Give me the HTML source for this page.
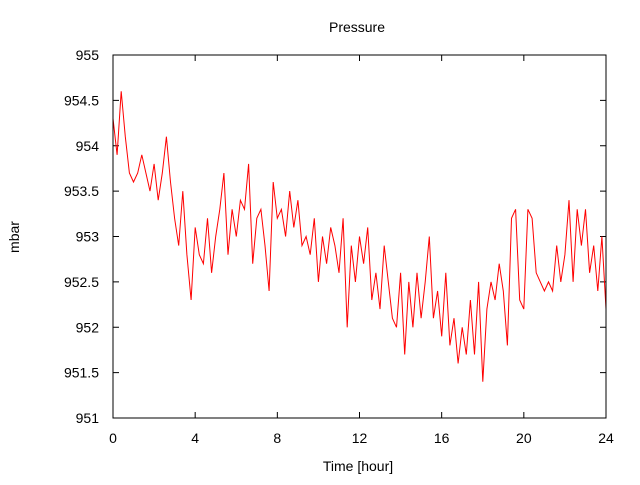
<!DOCTYPE html>
<html><head><meta charset="utf-8"><style>
body{margin:0;background:#fff}
svg text{font-family:"Liberation Sans",sans-serif;font-size:14px;fill:#000}
</style></head><body>
<svg id="chart" width="640" height="480" xmlns="http://www.w3.org/2000/svg">
<text x="357" y="32" text-anchor="middle">Pressure</text>
<text x="358" y="471" text-anchor="middle">Time [hour]</text>
<text transform="translate(19,237) rotate(-90)" text-anchor="middle">mbar</text>
<g id="ticks"></g>
<polyline id="series" fill="none" stroke="#ff0000" stroke-width="1"/>
<rect x="113" y="55" width="493" height="363" fill="none" stroke="#000" stroke-width="1"/>
</svg>
<script>
const xTicks=[0,4,8,12,16,20,24];
const yTicks=[951,951.5,952,952.5,953,953.5,954,954.5,955];
const yTickLabels=["951","951.5","952","952.5","953","953.5","954","954.5","955"];
const stepHours=0.2;
const pressure=[954.3,953.9,954.6,954.1,953.7,953.6,953.7,953.9,953.7,953.5,953.8,953.4,953.7,954.1,953.6,953.2,952.9,953.5,952.8,952.3,953.1,952.8,952.7,953.2,952.6,953.0,953.3,953.7,952.8,953.3,953.0,953.4,953.3,953.8,952.7,953.2,953.3,952.9,952.4,953.6,953.2,953.3,953.0,953.5,953.1,953.4,952.9,953.0,952.8,953.2,952.5,953.0,952.7,953.1,952.9,952.6,953.2,952.0,952.9,952.5,953.0,952.7,953.1,952.3,952.6,952.2,952.9,952.5,952.1,952.0,952.6,951.7,952.5,952.0,952.6,952.1,952.5,953.0,952.1,952.4,951.9,952.6,951.8,952.1,951.6,952.0,951.7,952.3,951.7,952.5,951.4,952.2,952.5,952.3,952.7,952.4,951.8,953.2,953.3,952.3,952.2,953.3,953.2,952.6,952.5,952.4,952.5,952.4,952.9,952.5,952.8,953.4,952.5,953.3,952.9,953.3,952.6,952.9,952.4,953.0,952.2,953.2,952.3];
const L=113,R=606,T=55,B=418;
const xs=v=>L+(v-0)/24*(R-L);
const ys=v=>B-(v-951)/4*(B-T);
const NS="http://www.w3.org/2000/svg";
const g=document.getElementById('ticks');
function mk(tag,attrs){const e=document.createElementNS(NS,tag);for(const k in attrs)e.setAttribute(k,attrs[k]);g.appendChild(e);return e;}
xTicks.forEach(t=>{
  const x=xs(t);
  const a=mk('line',{x1:x,y1:B,x2:x,y2:B-6,stroke:'#000'});
  
  
  const b=mk('line',{x1:x,y1:T,x2:x,y2:T+6,stroke:'#000'});
  
  
  const tx=mk('text',{x:x,y:443,'text-anchor':'middle'});
  tx.textContent=String(t);
  
  
});
yTicks.forEach((t,i)=>{
  const y=ys(t);
  const a=mk('line',{x1:L,y1:y,x2:L+6,y2:y,stroke:'#000'});
  
  
  const b=mk('line',{x1:R,y1:y,x2:R-6,y2:y,stroke:'#000'});
  
  
  const tx=mk('text',{x:99,y:y+5,'text-anchor':'end'});
  tx.textContent=yTickLabels[i];
  
  
});
const pts=pressure.map((v,i)=>xs(Math.min(24,i*stepHours)).toFixed(1)+','+ys(v).toFixed(1)).join(' ');
document.getElementById('series').setAttribute('points',pts);
</script>
</body></html>
